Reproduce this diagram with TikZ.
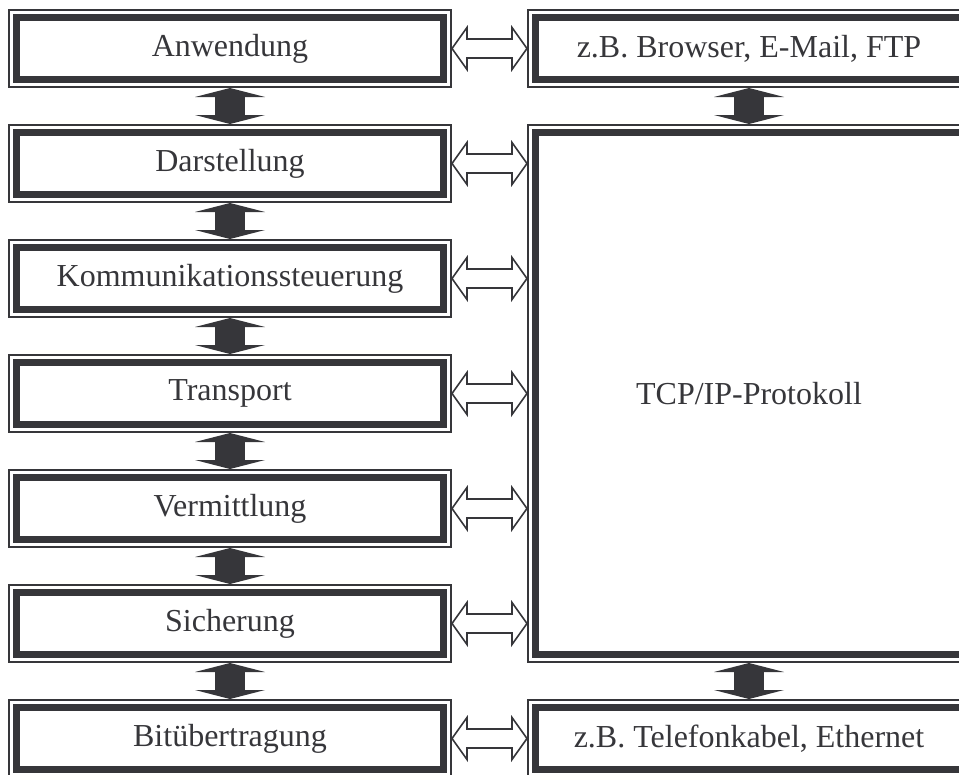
\documentclass[tikz,border=0pt]{standalone}
\usepackage{fontspec}
\setmainfont{Liberation Serif}
\usepackage{tikz}
\usetikzlibrary{arrows.meta,calc}

\definecolor{dk}{RGB}{54,54,58}

\begin{document}
\begin{tikzpicture}[
    x=0.75pt,y=-0.75pt,
    font=\fontsize{24}{28}\selectfont,
    layer/.style={draw=dk,line width=1.5pt,text=dk,inner sep=0pt,align=center,
        minimum width=331.5pt,minimum height=57.75pt,
        path picture={\draw[dk,line width=5.25pt]
            ([shift={(5.625pt,-5.625pt)}]path picture bounding box.north west) rectangle
            ([shift={(-5.625pt,5.625pt)}]path picture bounding box.south east);}},
    fat/.style={draw=dk,line width=23pt,<->,
        >={Triangle[width=52.5pt,length=6.75pt,line width=0pt 0 0]}},
    hollow/.style={draw=dk,fill=white,line width=1.2pt,line join=miter,
        to path={-- ++(11.25pt,15.75pt) -- ++(0pt,-8.625pt)
            -- ($(\tikztotarget)+(-11.25pt,7.125pt)$) -- ++(0pt,8.625pt)
            -- (\tikztotarget) -- ++(-11.25pt,-15.75pt) -- ++(0pt,8.625pt)
            -- ($(\tikztostart)+(11.25pt,-7.125pt)$) -- ++(0pt,-8.625pt) -- cycle}}
]
\useasboundingbox (0,0) rectangle (959,774);
% OSI layers
\node[layer] (an) at (230,48.5) {Anwendung};
\node[layer] (da) at (230,163.5) {Darstellung};
\node[layer] (ko) at (230,278.5) {Kommunikationssteuerung};
\node[layer] (tr) at (230,393.5) {Transport};
\node[layer] (ve) at (230,508.5) {Vermittlung};
\node[layer] (si) at (230,623.5) {Sicherung};
\node[layer] (bi) at (230,738.5) {Bitübertragung};
% internet side
\node[layer] (app) at (749,48.5) {z.B. Browser, E-Mail, FTP};
\node[layer,minimum height=402.75pt] (tcp) at (749,393.5) {TCP/IP-Protokoll};
\node[layer] (phy) at (749,738.5) {z.B. Telefonkabel, Ethernet};
\draw[fat] (an) -- (da);
\draw[fat] (da) -- (ko);
\draw[fat] (ko) -- (tr);
\draw[fat] (tr) -- (ve);
\draw[fat] (ve) -- (si);
\draw[fat] (si) -- (bi);
\draw[fat] (app) -- (tcp);
\draw[fat] (tcp) -- (phy);
\draw[hollow] (an.east) to (app.west);
\draw[hollow] (da.east) to (da.east -| tcp.west);
\draw[hollow] (ko.east) to (ko.east -| tcp.west);
\draw[hollow] (tr.east) to (tr.east -| tcp.west);
\draw[hollow] (ve.east) to (ve.east -| tcp.west);
\draw[hollow] (si.east) to (si.east -| tcp.west);
\draw[hollow] (bi.east) to (phy.west);
\end{tikzpicture}
\end{document}
